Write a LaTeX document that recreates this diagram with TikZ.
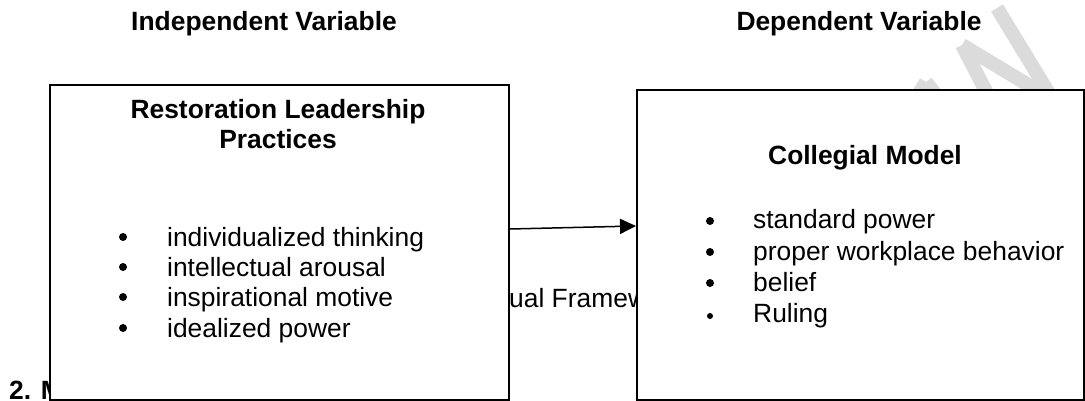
\documentclass[tikz,border=0pt]{standalone}
\usepackage{fontspec}
\setmainfont{Liberation Sans}
\usetikzlibrary{arrows.meta}
\begin{document}
\begin{tikzpicture}[x=1pt,y=-1pt,
  box/.style={draw=black, line width=2pt, fill=white, inner sep=0},
  head/.style={font=\fontsize{26.4}{30}\selectfont\bfseries, anchor=base, inner sep=0},
  item/.style={font=\fontsize{26.4}{30}\selectfont, anchor=base west, inner sep=0},
  dot/.style={circle, fill=black, inner sep=0, minimum size=8pt},
  sdot/.style={circle, fill=black, inner sep=0, minimum size=6pt},
  wm/.style={line width=14pt, draw=gray!28},
  arr/.style={line width=1.5pt, -{Triangle[length=16pt,width=15pt]}}
]
\useasboundingbox (0,0) rectangle (1085,401);
% watermark
\draw[wm] (997,8) -- (1050,95);
\draw[wm] (962,45) -- (988,95);
\draw[wm] (962,45) -- (1045,95);
\draw[wm] (926,82) -- (918,95);
\draw[wm] (926,82) -- (936,95);
% titles
\node[head] (iv) at (264,31) {Independent Variable};
\node[head] (dv) at (859,31) {Dependent Variable};
% texts partly hidden by the boxes
\node[item] (cf) at (509,307) {ual Framew};
\node[head, anchor=base west] (sec) at (9,399) {2. M};
% boxes
\node[box, minimum width=459pt, minimum height=315pt, anchor=north west] (lbox) at (49,84) {};
\node[box, minimum width=447pt, minimum height=310pt, anchor=north west] (rbox) at (636,89) {};
% left box content
\node[head] (lh1) at (278,119) {Restoration Leadership};
\node[head] (lh2) at (278,149) {Practices};
\node[dot] (lb1) at (123,237) {};
\node[dot] (lb2) at (123,267) {};
\node[dot] (lb3) at (123,297) {};
\node[dot] (lb4) at (123,328) {};
\node[item] (lt1) at (167,246) {individualized thinking};
\node[item] (lt2) at (167,276) {intellectual arousal};
\node[item] (lt3) at (167,306) {inspirational motive};
\node[item] (lt4) at (167,337) {idealized power};
% right box content
\node[head] (rh) at (865,165) {Collegial Model};
\node[dot] (rb1) at (710,221) {};
\node[dot] (rb2) at (710,252) {};
\node[dot] (rb3) at (710,283) {};
\node[sdot] (rb4) at (710,316) {};
\node[item] (rt1) at (753,229) {standard power};
\node[item] (rt2) at (753,260) {proper workplace behavior};
\node[item] (rt3) at (753,291) {belief};
\node[item] (rt4) at (753,322) {Ruling};
% arrow
\draw[arr] ([yshift=13.5pt]lbox.east) -- ([yshift=19pt]rbox.west);
\end{tikzpicture}
\end{document}
